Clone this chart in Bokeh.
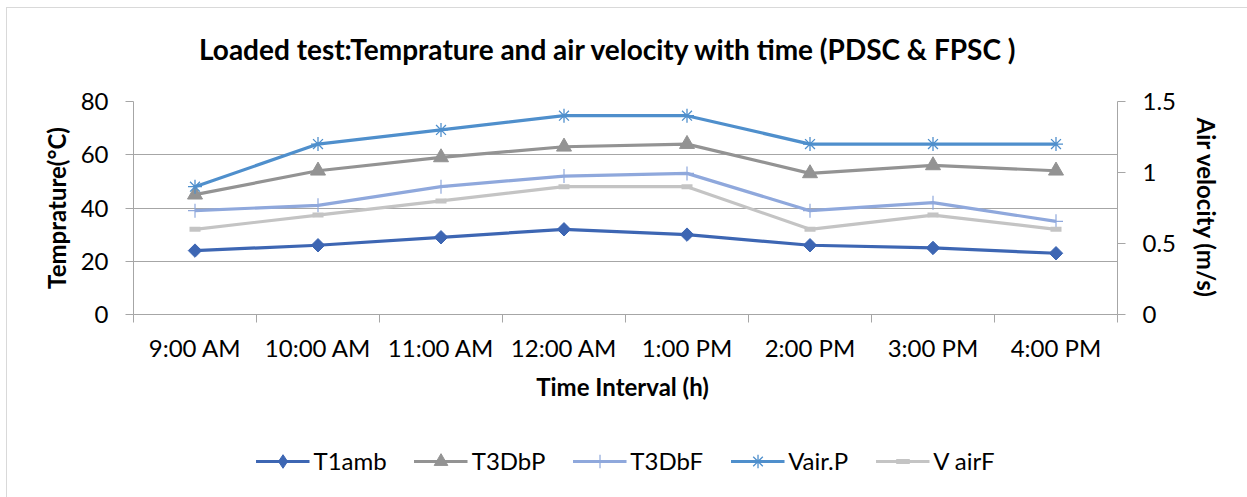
import math
from bokeh.plotting import figure
from bokeh.layouts import column
from bokeh.models import (Range1d, LinearAxis, FixedTicker, NumeralTickFormatter,
                          Legend, LegendItem)
from bokeh.embed import file_html
from bokeh.resources import INLINE

times = ["9:00 AM", "10:00 AM", "11:00 AM", "12:00 AM", "1:00 PM", "2:00 PM", "3:00 PM", "4:00 PM"]
t1amb = [24, 26, 29, 32, 30, 26, 25, 23]
t3dbp = [45, 54, 59, 63, 64, 53, 56, 54]
t3dbf = [39, 41, 48, 52, 53, 39, 42, 35]
vair_p = [0.9, 1.2, 1.3, 1.4, 1.4, 1.2, 1.2, 1.2]
vair_f = [0.6, 0.7, 0.8, 0.9, 0.9, 0.6, 0.7, 0.6]
series_names = ["T1amb", "T3DbP", "T3DbF", "Vair.P", "V airF"]
left_ticks = [0, 20, 40, 60, 80]
right_ticks = [0, 0.5, 1, 1.5]
title_text = "Loaded test:Temprature   and  air velocity  with  time (PDSC & FPSC )"

FONT = "Lato"
FS = "24px"
GRID = "#a6a6a6"

xs = [i + 0.5 for i in range(len(times))]
bounds = list(range(len(times) + 1))


def blank(fig):
    fig.axis.visible = False
    fig.grid.visible = False
    fig.outline_line_color = None
    fig.background_fill_color = "white"
    fig.border_fill_color = "white"


# title strip
tf = figure(width=1240, height=73, output_backend="svg", toolbar_location=None,
            x_range=Range1d(0, 1), y_range=Range1d(0, 1),
            min_border_left=0, min_border_right=0, min_border_top=61, min_border_bottom=0)
blank(tf)
tf.title.text = title_text
tf.title.text_font = FONT
tf.title.text_font_size = "28px"
tf.title.text_font_style = "bold"
tf.title.align = "center"
tf.title.text_color = "black"
tf.title.standoff = 8

# main chart
p = figure(width=1240, height=349, output_backend="svg", toolbar_location=None,
           x_range=Range1d(0, len(times)), y_range=Range1d(0, 80),
           min_border_left=126, min_border_right=130, min_border_top=20, min_border_bottom=116)
p.outline_line_color = None
p.background_fill_color = "white"
p.border_fill_color = "white"

p.extra_y_ranges = {"v": Range1d(0, 1.5)}

# x axis
xa = p.xaxis[0]
xa.ticker = FixedTicker(ticks=xs, minor_ticks=bounds)
xa.major_label_overrides = {x: t for x, t in zip(xs, times)}
xa.major_tick_out = 0
xa.major_tick_in = 0
xa.minor_tick_out = 8
xa.minor_tick_in = 0
xa.minor_tick_line_color = GRID
xa.axis_line_color = GRID
xa.major_label_text_font = FONT
xa.major_label_text_font_size = FS
xa.major_label_text_color = "black"
xa.major_label_standoff = 10
xa.axis_label = "Time Interval  (h)"
xa.axis_label_text_font = FONT
xa.axis_label_text_font_size = FS
xa.axis_label_text_font_style = "bold"
xa.axis_label_text_color = "black"
xa.axis_label_standoff = 7

# left axis
ya = p.yaxis[0]
ya.ticker = FixedTicker(ticks=left_ticks)
ya.major_tick_out = 8
ya.major_tick_in = 0
ya.minor_tick_line_color = None
ya.major_tick_line_color = GRID
ya.axis_line_color = GRID
ya.major_label_text_font = FONT
ya.major_label_text_font_size = FS
ya.major_label_text_color = "black"
ya.major_label_standoff = 17
ya.axis_label = "Temprature(°C)"
ya.axis_label_text_font = FONT
ya.axis_label_text_font_size = FS
ya.axis_label_text_font_style = "bold"
ya.axis_label_text_color = "black"
ya.axis_label_standoff = 7

# right axis
ra = LinearAxis(y_range_name="v", ticker=FixedTicker(ticks=right_ticks),
                formatter=NumeralTickFormatter(format="0.[0]"))
ra.major_tick_out = 8
ra.major_tick_in = 0
ra.minor_tick_line_color = None
ra.major_tick_line_color = GRID
ra.axis_line_color = GRID
ra.major_label_text_font = FONT
ra.major_label_text_font_size = FS
ra.major_label_text_color = "black"
ra.major_label_standoff = 17
ra.axis_label = "Air velocity (m/s)"
ra.axis_label_text_font = FONT
ra.axis_label_text_font_size = FS
ra.axis_label_text_font_style = "bold"
ra.axis_label_text_color = "black"
ra.axis_label_standoff = 13
p.add_layout(ra, "right")

p.xgrid.visible = False
p.ygrid.ticker = FixedTicker(ticks=left_ticks)
p.ygrid.grid_line_color = GRID

c_t1 = "#3d66b3"
c_dbp = "#939393"
c_dbf = "#8fa8dc"
c_vp = "#4f8fcc"
c_vf = "#c4c4c4"
LW = 3.2

styles = [
    dict(color=c_t1, marker="square", angle=math.pi / 4, size=9.5, mlw=1, fill=True,
         lmarker="diamond"),
    dict(color=c_dbp, marker="triangle", angle=0, size=15, mlw=1, fill=True,
         lmarker="triangle"),
    dict(color=c_dbf, marker="cross", angle=0, size=14, mlw=1.2, fill=False,
         lmarker="cross"),
    dict(color=c_vp, marker="asterisk", angle=0, size=14, mlw=1.3, fill=False,
         lmarker="asterisk"),
    dict(color=c_vf, marker="dash", angle=0, size=11, mlw=5, fill=False,
         lmarker="dash"),
]
data = [t1amb, t3dbp, t3dbf, vair_p, vair_f]
ranges = ["default", "default", "default", "v", "v"]

for ys, st, rn in zip(data, styles, ranges):
    p.line(xs, ys, line_color=st["color"], line_width=LW, y_range_name=rn)
    p.scatter(xs, ys, marker=st["marker"], angle=st["angle"], size=st["size"],
              fill_color=st["color"] if st["fill"] else None, line_color=st["color"],
              line_width=st["mlw"], y_range_name=rn)

# legend strip below the chart (hidden proxy renderers carry the styles)
lg = figure(width=1240, height=67, output_backend="svg", toolbar_location=None,
            x_range=Range1d(0, 1), y_range=Range1d(0, 1),
            min_border_left=36, min_border_right=0, min_border_top=0, min_border_bottom=6)
blank(lg)
items = []
for name, ys, st in zip(series_names, data, styles):
    rl = lg.line(xs, ys, line_color=st["color"], line_width=LW, visible=False)
    rm = lg.scatter(xs, ys, marker=st["lmarker"], size=st["size"],
                    fill_color=st["color"] if st["fill"] else None, line_color=st["color"],
                    line_width=st["mlw"], visible=False)
    items.append(LegendItem(label=name, renderers=[rl, rm]))
legend = Legend(items=items, orientation="horizontal", location="center")
legend.label_text_font = FONT
legend.label_text_font_size = FS
legend.label_text_color = "black"
legend.glyph_width = 54
legend.glyph_height = 34
legend.label_standoff = 4
legend.spacing = 27
legend.padding = 0
legend.margin = 0
legend.border_line_color = None
legend.background_fill_alpha = 0
legend.inactive_fill_alpha = 0
lg.add_layout(legend)

layout = column(tf, p, lg, spacing=0, margin=(8, 0, 0, 7))
layout.styles = {"outline": "1px solid #d9d9d9"}

open("out.html", "w").write(file_html(layout, INLINE))
